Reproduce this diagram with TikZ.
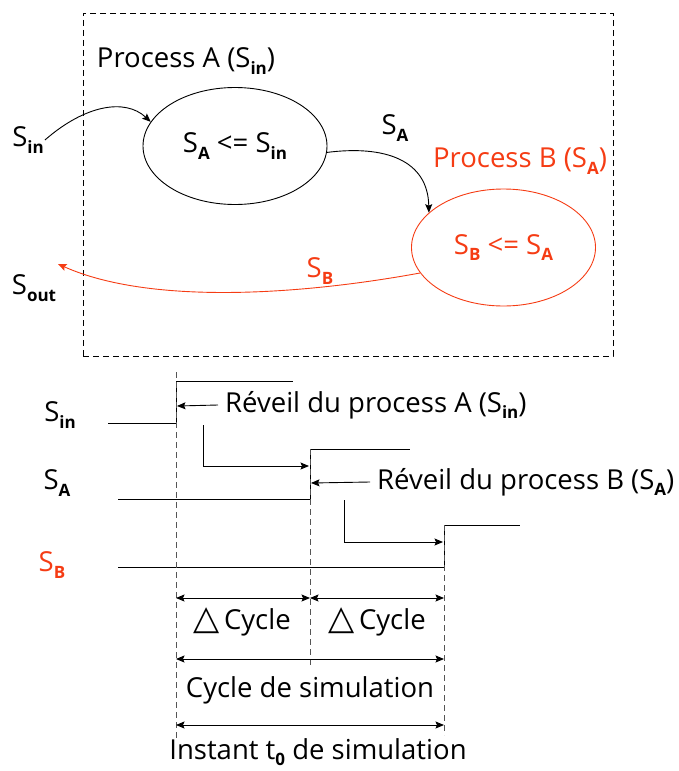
\documentclass[tikz,border=0pt]{standalone}
\usepackage{fontspec}
\setmainfont{Open Sans}
\newfontfamily\symfnt{DejaVu Sans}
\usetikzlibrary{arrows.meta,shapes.geometric}
\definecolor{pred}{HTML}{F53C14}
\definecolor{dgray}{HTML}{555555}
\newcommand{\lowidx}[1]{\raisebox{-0.45ex}{\fontsize{17}{17}\selectfont\bfseries #1}}
\newcommand{\dtri}{{\fontsize{34}{34}\selectfont\symfnt △}}
\begin{document}
\begin{tikzpicture}[x=1pt,y=-1pt,
  font=\fontsize{27.5}{32}\selectfont,
  every node/.style={inner sep=1pt},
  tip/.style={Stealth[length=8.5pt,width=7pt,inset=1.5pt]},
  arr/.style={line width=0.9pt,-{Stealth[length=8.5pt,width=7pt,inset=1.5pt]}},
  darr/.style={line width=0.9pt,{Stealth[length=8.5pt,width=7pt,inset=1.5pt]}-{Stealth[length=8.5pt,width=7pt,inset=1.5pt]}},
  sig/.style={line width=0.9pt},
  gdash/.style={line width=0.9pt,dgray,dash pattern=on 6pt off 4pt},
  proc/.style={ellipse,draw,line width=0.9pt,minimum width=184pt,minimum height=117pt,inner sep=0pt}]
\useasboundingbox (0,0) rectangle (679,771);
% top part
\node[draw,line width=0.9pt,dash pattern=on 6pt off 4pt,minimum width=530pt,minimum height=343pt,inner sep=0pt] (frame) at (348,184.5) {};
\node (pa) at (186,61) {Process A (S\lowidx{in})};
\node[proc] (A) at (235,146) {S\lowidx{A} <= S\lowidx{in}};
\node (sin) at (28,140) {S\lowidx{in}};
\node (sa) at (395,128) {S\lowidx{A}};
\node[text=pred] (pb) at (520,161) {Process B (S\lowidx{A})};
\node[proc,draw=pred,text=pred] (B) at (503.5,247.5) {S\lowidx{B} <= S\lowidx{A}};
\node[text=pred] (sbl) at (320,271) {S\lowidx{B}};
\node (sout) at (34,288) {S\lowidx{out}};
\coordinate (soutTip) at (58,264);
\draw[arr] (sin.east) .. controls (85,105) and (125,98) .. (A.164);
\draw[arr] (A.-4) .. controls (385,145) and (428,160) .. (B.155);
\draw[arr,pred] (B.197) .. controls (300,295) and (150,305) .. (soutTip);
% timing
\node (lin) at (60,415) {S\lowidx{in}};
\node (lA) at (57,483) {S\lowidx{A}};
\node[text=pred] (lB) at (52,565) {S\lowidx{B}};
\draw[sig] (108,423) -- (176,423) -- (176,381) -- (293,381);
\draw[sig] (118,499) -- (310,499) -- (310,449) -- (410,449);
\draw[sig] (118,567) -- (444,567) -- (444,525) -- (520,525);
\draw[gdash] (176,372) -- (176,740);
\draw[gdash] (310,449) -- (310,665);
\draw[gdash] (444,525) -- (444,735);
\node[anchor=west] (ra) at (224,405) {Réveil du process A (S\lowidx{in})};
\coordinate (raTip) at (177,406);
\draw[arr] ([xshift=-6pt]ra.west) -- (raTip);
\node[anchor=west] (rb) at (376,482) {Réveil du process B (S\lowidx{A})};
\coordinate (rbTip) at (311,483);
\draw[arr] ([xshift=-6pt]rb.west) -- (rbTip);
\coordinate (e1s) at (203,425);
\coordinate (e1t) at (309,466);
\draw[arr] (e1s) |- (e1t);
\coordinate (e2s) at (344,500);
\coordinate (e2t) at (443,542);
\draw[arr] (e2s) |- (e2t);
% measures
\coordinate (m0a) at (176,598);
\coordinate (m1a) at (310,598);
\coordinate (m2a) at (444,598);
\draw[darr] (m0a) -- (m1a);
\draw[darr] (m1a) -- (m2a);
\node (dc1) at (242,622) {\dtri\,Cycle};
\node (dc2) at (377,622) {\dtri\,Cycle};
\coordinate (m0b) at (176,659);
\coordinate (m2b) at (444,659);
\draw[darr] (m0b) -- (m2b);
\node (cs) at (310,690) {Cycle de simulation};
\coordinate (m0c) at (176,725);
\coordinate (m2c) at (444,725);
\draw[darr] (m0c) -- (m2c);
\node (it) at (318,752) {Instant t\lowidx{0} de simulation};
\end{tikzpicture}
\end{document}
